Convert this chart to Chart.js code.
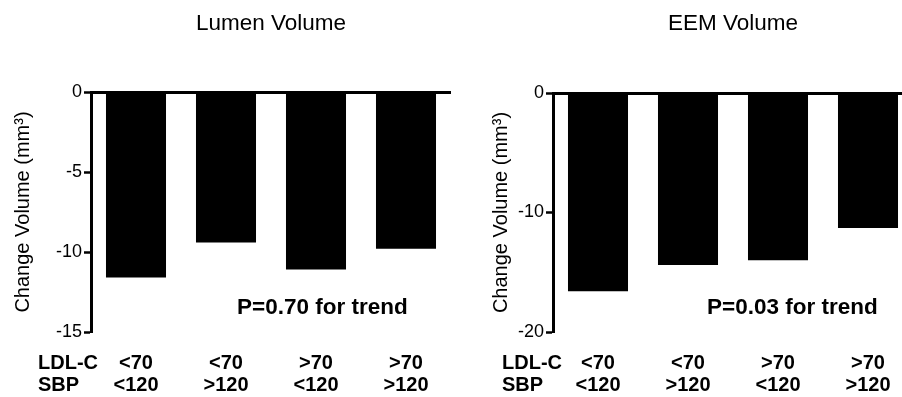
<!DOCTYPE html>
<html>
<head>
<meta charset="utf-8">
<script src="https://cdn.jsdelivr.net/npm/chart.js@4"></script>
<style>
  html, body { margin: 0; padding: 0; background: #fff; }
  #wrap { position: relative; width: 902px; height: 397px; overflow: hidden; background: #fff; }
  canvas { position: absolute; top: 0; }
</style>
</head>
<body>
<div id="wrap">
  <canvas id="c1" width="460" height="397" style="left:0px"></canvas>
  <canvas id="c2" width="460" height="397" style="left:460px"></canvas>
</div>
<script>
// ---- data ----
const categories = [["<70", "<120"], ["<70", ">120"], [">70", "<120"], [">70", ">120"]];
const rowHeaders = ["LDL-C", "SBP"];
const lumenTitle = "Lumen Volume";
const eemTitle = "EEM Volume";
const yAxisTitle = "Change Volume (mm\u00B3)";
const lumenValues = [-11.6, -9.4, -11.1, -9.8];
const eemValues = [-16.6, -14.4, -14.0, -11.3];
const lumenTicks = { min: -15, max: 0, step: 5 };
const eemTicks = { min: -20, max: 0, step: 10 };
const lumenP = "P=0.70 for trend";
const eemP = "P=0.03 for trend";

const FONT = "'Liberation Sans', Arial, Helvetica, sans-serif";
Chart.defaults.font.family = FONT;
Chart.defaults.color = '#000';

const extras = {
  id: 'extras',
  afterDraw(chart, args, opts) {
    const ctx = chart.ctx;
    const ca = chart.chartArea;
    const xs = chart.scales.x;
    ctx.save();
    ctx.fillStyle = '#000';
    // panel title
    ctx.font = "22.5px " + FONT;
    ctx.textAlign = 'center';
    ctx.textBaseline = 'middle';
    ctx.fillText(opts.title, (ca.left + ca.right) / 2, 24);
    // row headers
    ctx.font = "bold 20px " + FONT;
    ctx.textAlign = 'left';
    const lh = 22;
    const y0 = xs.top + opts.labelPad + lh / 2;
    rowHeaders.forEach((h, i) => ctx.fillText(h, opts.rowX, y0 + i * lh));
    // p text
    ctx.font = "bold 22.5px " + FONT;
    ctx.fillText(opts.pText, opts.pX, 308);
    ctx.restore();
  }
};

function makeChart(id, values, tk, title, pText, o) {
  return new Chart(document.getElementById(id), {
    type: 'bar',
    data: {
      labels: categories,
      datasets: [{
        data: values,
        backgroundColor: '#000',
        borderWidth: 0,
        barPercentage: 0.667,
        categoryPercentage: 1.0
      }]
    },
    options: {
      responsive: false,
      animation: false,
      devicePixelRatio: 1,
      layout: { padding: { left: 0, right: o.padRight, top: o.padTop, bottom: 0 } },
      plugins: {
        legend: { display: false },
        tooltip: { enabled: false },
        extras: { title: title, pText: pText, pX: o.pX, rowX: o.rowX, labelPad: 20 }
      },
      scales: {
        x: {
          grid: { display: false, drawTicks: false },
          border: { display: false },
          ticks: {
            color: '#000',
            font: { size: 20, weight: 'bold', lineHeight: 1.1 },
            padding: 20,
            maxRotation: 0,
            autoSkip: false
          },
          afterFit: s => { s.height = 397 - o.bottom; }
        },
        y: {
          min: tk.min,
          max: tk.max,
          ticks: {
            stepSize: tk.step,
            color: '#000',
            font: { size: 18 },
            padding: 2
          },
          grid: {
            color: c => (c.tick && c.tick.value === 0) ? '#000' : 'rgba(0,0,0,0)',
            lineWidth: c => (c.tick && c.tick.value === 0) ? 3 : 1,
            tickColor: '#000',
            tickWidth: 2.5,
            tickLength: 7,
            drawTicks: true
          },
          border: { display: true, color: '#000', width: 3 },
          title: {
            display: true,
            text: yAxisTitle,
            color: '#000',
            font: { size: 20 },
            padding: { top: o.titlePad, bottom: 0 }
          },
          afterFit: s => { s.width = o.axisX; }
        }
      }
    },
    plugins: [extras]
  });
}

makeChart('c1', lumenValues, lumenTicks, lumenTitle, lumenP,
  { padRight: 9, padTop: 92, bottom: 332, axisX: 91, titlePad: 11, pX: 237, rowX: 38 });
makeChart('c2', eemValues, eemTicks, eemTitle, eemP,
  { padRight: 7, padTop: 93, bottom: 332, axisX: 93, titlePad: 29, pX: 247, rowX: 42 });
</script>
</body>
</html>
